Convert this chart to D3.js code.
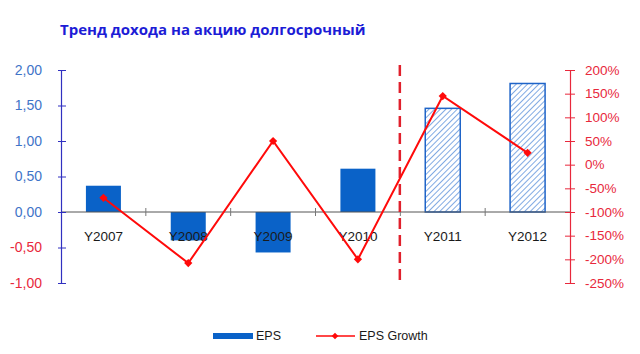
<!DOCTYPE html>
<html lang="ru">
<head>
<meta charset="UTF-8">
<script src="https://d3js.org/d3.v7.min.js"></script>
<style>
    body {margin: 0; background: #fff;}
    svg {display: block; font-family: "Liberation Sans", Arial, sans-serif;}
</style>
</head>
<body>
<svg id="chart" width="640" height="354"></svg>
<script>
    var years = ['Y2007', 'Y2008', 'Y2009', 'Y2010', 'Y2011', 'Y2012'];
    var eps = [0.37, -0.40, -0.57, 0.61, 1.46, 1.81];
    var growth = [-70, -208, 50, -200, 145, 25];
    var forecast = [false, false, false, false, true, true];
    var epsTicks = [-1, -0.5, 0, 0.5, 1, 1.5, 2];
    var growthTicks = [-250, -200, -150, -100, -50, 0, 50, 100, 150, 200];

    var plotLeft = 61, plotRight = 570, plotTop = 70, plotBottom = 283;
    var svg = d3.select('#chart');

    var x = d3.scaleBand().domain(years).range([plotLeft, plotRight]);
    var y = d3.scaleLinear().domain([-1, 2]).range([plotBottom, plotTop]);
    var y2 = d3.scaleLinear().domain([-250, 200]).range([plotBottom, plotTop]);

    var defs = svg.append('defs');
    var pat = defs.append('pattern').attr('id', 'hatch')
        .attr('patternUnits', 'userSpaceOnUse')
        .attr('width', 4).attr('height', 4)
        .attr('patternTransform', 'rotate(45)');
    pat.append('rect').attr('width', 4).attr('height', 4).attr('fill', '#fff');
    pat.append('line').attr('x1', 0).attr('y1', 0).attr('x2', 0).attr('y2', 4)
        .attr('stroke', '#4a86d8').attr('stroke-width', 1.4);

    // title
    svg.append('text').attr('x', 60).attr('y', 35)
        .attr('font-family', '"Open Sans", sans-serif')
        .attr('font-weight', 'bold').attr('font-size', 15)
        .attr('fill', '#1c1cd6')
        .text('Тренд дохода на акцию долгосрочный');

    // bars
    var bw = 35;
    svg.selectAll('.bar').data(years).enter().append('rect')
        .attr('x', function (d) { return x(d) + x.bandwidth() / 2 - bw / 2; })
        .attr('y', function (d, i) { return y(Math.max(0, eps[i])); })
        .attr('width', bw)
        .attr('height', function (d, i) { return Math.abs(y(eps[i]) - y(0)); })
        .attr('fill', function (d, i) { return forecast[i] ? 'url(#hatch)' : '#0a62c8'; })
        .attr('stroke', function (d, i) { return forecast[i] ? '#1f64c8' : 'none'; })
        .attr('stroke-width', 1.5);

    // zero line + category ticks
    svg.append('line').attr('x1', plotLeft).attr('x2', plotRight)
        .attr('y1', y(0)).attr('y2', y(0))
        .attr('stroke', '#555').attr('stroke-width', 1);
    years.slice(1).forEach(function (d) {
        svg.append('line').attr('x1', x(d)).attr('x2', x(d))
            .attr('y1', y(0) - 4).attr('y2', y(0) + 4)
            .attr('stroke', '#777').attr('stroke-width', 1);
    });

    // category labels
    svg.selectAll('.cat').data(years).enter().append('text')
        .attr('x', function (d) { return x(d) + x.bandwidth() / 2; })
        .attr('y', 241).attr('text-anchor', 'middle')
        .attr('font-size', 13.5).attr('fill', '#1a1a1a')
        .text(function (d) { return d; });

    // left axis
    var leftAxis = svg.append('g').attr('transform', 'translate(' + plotLeft + ',0)')
        .call(d3.axisLeft(y).tickValues(epsTicks).tickSize(0)
            .tickFormat(function (d) { return d.toFixed(2).replace('.', ','); }));
    leftAxis.select('.domain').attr('stroke', '#3030c0').attr('stroke-width', 1.2);
    leftAxis.selectAll('.tick line').remove();
    leftAxis.selectAll('.tick').append('line').attr('x1', -3).attr('x2', 5)
        .attr('stroke', '#3030c0');
    leftAxis.selectAll('.tick text').attr('x', -19)
        .attr('font-size', 14).attr('font-family', '"Liberation Sans", Arial, sans-serif')
        .attr('fill', function (d) { return d < 0 ? '#e8283c' : '#3f74c8'; });

    // right axis
    var rightAxis = svg.append('g').attr('transform', 'translate(' + plotRight + ',0)')
        .call(d3.axisRight(y2).tickValues(growthTicks).tickSize(0)
            .tickFormat(function (d) { return d + '%'; }));
    rightAxis.select('.domain').attr('stroke', '#e8283c').attr('stroke-width', 1.2);
    rightAxis.selectAll('.tick').append('line').attr('x1', -5).attr('x2', 5)
        .attr('stroke', '#e8283c');
    rightAxis.selectAll('.tick text').attr('x', 15)
        .attr('font-size', 13.5).attr('font-family', '"Liberation Sans", Arial, sans-serif')
        .attr('fill', '#e8283c');

    // forecast divider
    svg.append('line').attr('x1', x('Y2011') - 0.5).attr('x2', x('Y2011') - 0.5)
        .attr('y1', 65).attr('y2', 286)
        .attr('stroke', '#e0202c').attr('stroke-width', 2.5)
        .attr('stroke-dasharray', '11,6');

    // growth line
    var line = d3.line()
        .x(function (d, i) { return x(years[i]) + x.bandwidth() / 2; })
        .y(function (d) { return y2(d); });
    svg.append('path').datum(growth).attr('d', line)
        .attr('fill', 'none').attr('stroke', '#ff0a0a').attr('stroke-width', 2);
    var diamond = d3.symbol().type(d3.symbolSquare).size(34);
    svg.selectAll('.pt').data(growth).enter().append('path')
        .attr('d', diamond)
        .attr('transform', function (d, i) {
            return 'translate(' + (x(years[i]) + x.bandwidth() / 2) + ',' + y2(d) + ') rotate(45)';
        })
        .attr('fill', '#ff0a0a');

    // legend
    var ly = 336;
    svg.append('rect').attr('x', 213).attr('y', 333).attr('width', 40).attr('height', 6)
        .attr('fill', '#0a62c8');
    svg.append('text').attr('x', 256).attr('y', 339.5).attr('font-size', 12.5)
        .attr('fill', '#1a1a1a').text('EPS');
    svg.append('line').attr('x1', 316).attr('x2', 355).attr('y1', ly).attr('y2', ly)
        .attr('stroke', '#ff0a0a').attr('stroke-width', 1.5);
    svg.append('path').attr('d', d3.symbol().type(d3.symbolSquare).size(22))
        .attr('transform', 'translate(335,' + ly + ') rotate(45)').attr('fill', '#ff0a0a');
    svg.append('text').attr('x', 359).attr('y', 339.5).attr('font-size', 12.5)
        .attr('fill', '#1a1a1a').text('EPS Growth');
</script>
</body>
</html>
